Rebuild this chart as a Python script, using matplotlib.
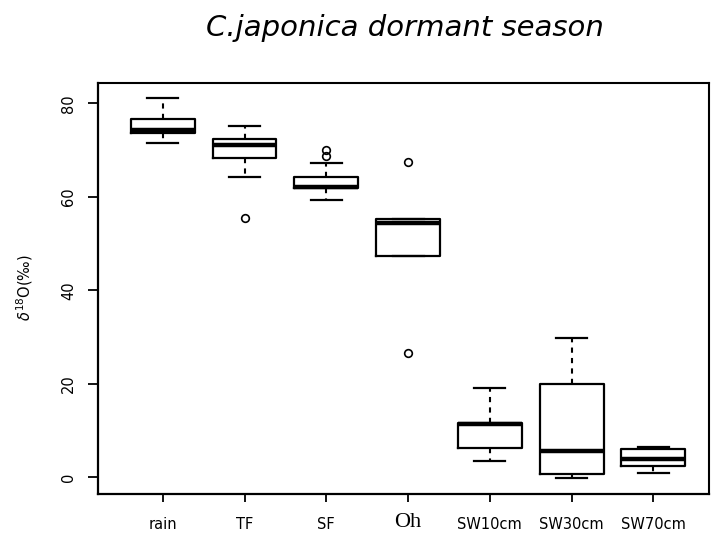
import numpy as np
import matplotlib
matplotlib.use("Agg")
import matplotlib.pyplot as plt

plt.rcParams['font.family'] = ['DejaVu Sans']

# box statistics per sample group (per mil)
groups = ["rain", "TF", "SF", "Oh", "SW10cm", "SW30cm", "SW70cm"]
whisker_low = [71.5, 64.2, 59.3, 47.3, 3.55, -0.2, 0.85]
q1 = [73.6, 68.4, 61.8, 47.3, 6.3, 0.7, 2.5]
median = [74.4, 71.1, 62.2, 54.3, 11.4, 5.6, 3.85]
q3 = [76.6, 72.4, 64.2, 55.2, 11.7, 19.96, 6.0]
whisker_high = [81.1, 75.1, 67.3, 55.2, 19.0, 29.7, 6.5]
outliers = [[], [55.5], [68.8, 70.0], [67.5, 26.5], [], [], []]

stats = []
for i, g in enumerate(groups):
    stats.append(dict(label=g, whislo=whisker_low[i], q1=q1[i], med=median[i],
                      q3=q3[i], whishi=whisker_high[i], fliers=outliers[i]))

fig = plt.figure(figsize=(7.11, 5.4), dpi=100)
ax = fig.add_axes([0.1383, 0.0846, 0.859, 0.761])

ax.bxp(stats, positions=np.arange(1, 8), widths=0.78,
       boxprops=dict(color="black", linewidth=1.6),
       medianprops=dict(color="black", linewidth=3.2, solid_capstyle="butt"),
       whiskerprops=dict(color="black", linewidth=1.5, linestyle=(0, (2.5, 2.5))),
       capprops=dict(color="black", linewidth=1.6),
       capwidths=0.38,
       flierprops=dict(marker="o", markersize=5.5, markerfacecolor="none",
                       markeredgecolor="black", markeredgewidth=1.2))

ax.set_xlim(0.2125, 7.681)
ax.set_ylim(-3.64, 84.27)

ax.set_yticks([0, 20, 40, 60, 80])
ax.set_yticklabels(["0", "20", "40", "60", "80"], rotation=90, va="center", fontsize=10.5)
ax.tick_params(axis="y", length=7, width=1.3, pad=9)
ax.tick_params(axis="x", length=6, width=1.3, pad=10, labelsize=10.5)
ax.set_xticks(np.arange(1, 8))
ax.set_xticklabels(groups)
for lab in ax.get_xticklabels():
    if lab.get_text() == "Oh":
        lab.set_family("Liberation Serif")
        lab.set_fontsize(16)
        lab.set_y(0.008)

for side in ["top", "right"]:
    ax.spines[side].set_linewidth(1.5)
ax.spines["left"].set_linewidth(1.6)
ax.spines["bottom"].set_linewidth(1.6)

fig.text(0.57, 0.948, "C.japonica dormant season", ha="center", va="center",
         fontsize=21, style="italic")
fig.text(0.035, 0.468, r"$\delta^{18}$O(‰)", rotation=90, ha="center", va="center",
         fontsize=10.5)

fig.savefig("out.png", dpi=100)
